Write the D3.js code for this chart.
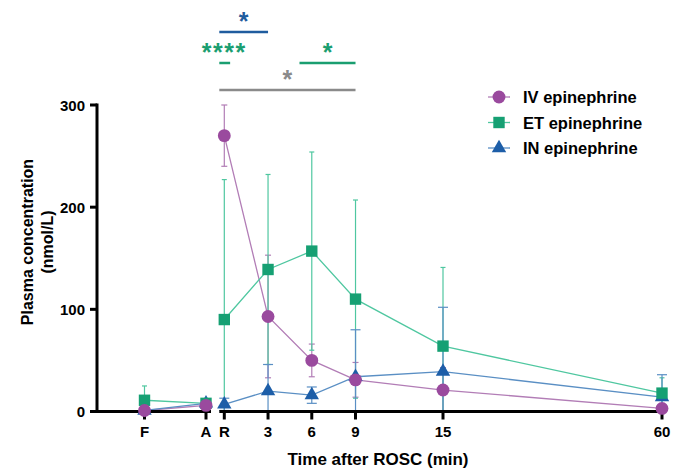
<!DOCTYPE html>
<html>
<head>
<meta charset="utf-8">
<script src="https://cdn.jsdelivr.net/npm/d3@7"></script>
<style>
  body { margin: 0; background: #fff; }
  svg { display: block; font-family: "Liberation Sans", Arial, sans-serif; }
</style>
</head>
<body>
<svg id="chart" width="681" height="468"></svg>
<script>
// 时间点
const preLabels = ["F", "A"];
const postTimes = [0, 3, 6, 9, 15, 60];
const postLabels = ["R", "3", "6", "9", "15", "60"];

// IV / ET / IN 均值和SD (F, A, R, 3, 6, 9, 15, 60)
const ivMean = [1, 6, 270, 93, 50, 31, 21, 3];
const ivSd   = [0, 0, 30, 60, 16, 17, 22, 3];
const etMean = [11, 8, 90, 139, 157, 110, 64, 18];
const etSd   = [14, 2, 137, 93, 97, 97, 77, 15];
const inMean = [1, 8, 7, 20, 16, 34, 39, 14];
const inSd   = [0, 0, 6, 26, 8, 46, 63, 22];

const yTicks = [0, 100, 200, 300];

// 显著性标记
const sigMarks = [
  { text: "*",    from: 0, to: 3,  row: 0, color: "#1f5c9e" },
  { text: "****", from: 0, to: 0.4, row: 1, color: "#1a9e70", textAt: 0 },
  { text: "*",    from: 5.5, to: 9, row: 1, color: "#1a9e70" },
  { text: "*",    from: 0, to: 9,  row: 2, color: "#8a8a8a" }
];

const series = [
  { name: "IV epinephrine", mean: ivMean, sd: ivSd, color: "#9a4a9e", line: "#b27db6", shape: d3.symbolCircle, size: 130, cap: 6 },
  { name: "ET epinephrine", mean: etMean, sd: etSd, color: "#16a073", line: "#4fc7a0", shape: d3.symbolSquare, size: 130, cap: 5 },
  { name: "IN epinephrine", mean: inMean, sd: inSd, color: "#1d5ea8", line: "#5a8fc4", shape: d3.symbolTriangle, size: 90, cap: 10 }
];

const svg = d3.select("#chart");

// 比例尺
const y = d3.scaleLinear().domain([0, 300]).range([411.5, 105]);
const xPre = d3.scalePoint().domain(preLabels).range([144.5, 206]);
const xPost = d3.scaleLinear().domain([0, 15, 60]).range([224.3, 443, 662]);

function xAt(i) {
  return i < preLabels.length ? xPre(preLabels[i]) : xPost(postTimes[i - preLabels.length]);
}

// 误差线
const errG = svg.append("g");
series.forEach(s => {
  s.mean.forEach((m, i) => {
    if (!s.sd[i]) return;
    const cx = xAt(i);
    const hi = y(m + s.sd[i]);
    const lo = y(Math.max(0, m - s.sd[i]));
    errG.append("line")
      .attr("x1", cx).attr("x2", cx)
      .attr("y1", hi).attr("y2", lo)
      .attr("stroke", s.line).attr("stroke-width", 1.2);
    errG.append("line")
      .attr("x1", cx - s.cap / 2).attr("x2", cx + s.cap / 2)
      .attr("y1", hi).attr("y2", hi)
      .attr("stroke", s.line).attr("stroke-width", 1.2);
    if (m - s.sd[i] > 0) {
      errG.append("line")
        .attr("x1", cx - s.cap / 2).attr("x2", cx + s.cap / 2)
        .attr("y1", lo).attr("y2", lo)
        .attr("stroke", s.line).attr("stroke-width", 1.2);
    }
  });
});

// 连接线（A 与 R 之间断开）
const lineGen = d3.line().x(d => d[0]).y(d => d[1]);
series.forEach(s => {
  const pts = s.mean.map((m, i) => [xAt(i), y(m)]);
  svg.append("path")
    .attr("d", lineGen(pts.slice(0, 2)))
    .attr("fill", "none").attr("stroke", s.line).attr("stroke-width", 1.3);
  svg.append("path")
    .attr("d", lineGen(pts.slice(2)))
    .attr("fill", "none").attr("stroke", s.line).attr("stroke-width", 1.3);
});

// 坐标轴
const axisG = svg.append("g");
axisG.append("line")
  .attr("x1", 97).attr("x2", 97)
  .attr("y1", y(300) - 1.5).attr("y2", y(0) + 1.5)
  .attr("stroke", "#000").attr("stroke-width", 3);
yTicks.forEach(t => {
  axisG.append("line")
    .attr("x1", 90).attr("x2", 97)
    .attr("y1", y(t)).attr("y2", y(t))
    .attr("stroke", "#000").attr("stroke-width", 3);
  axisG.append("text")
    .attr("x", 85).attr("y", y(t) + 5.5)
    .attr("text-anchor", "end")
    .attr("font-size", 15).attr("font-weight", "bold")
    .text(t);
});

axisG.append("line")
  .attr("x1", 97).attr("x2", 211)
  .attr("y1", y(0)).attr("y2", y(0))
  .attr("stroke", "#000").attr("stroke-width", 3);
axisG.append("line")
  .attr("x1", xPost(0) - 5).attr("x2", xPost(60) + 1.5)
  .attr("y1", y(0)).attr("y2", y(0))
  .attr("stroke", "#000").attr("stroke-width", 3);

const allLabels = preLabels.concat(postLabels);
allLabels.forEach((lab, i) => {
  const cx = xAt(i);
  axisG.append("line")
    .attr("x1", cx).attr("x2", cx)
    .attr("y1", y(0)).attr("y2", y(0) + 8)
    .attr("stroke", "#000").attr("stroke-width", 3);
  axisG.append("text")
    .attr("x", cx).attr("y", 436.5)
    .attr("text-anchor", "middle")
    .attr("font-size", 15).attr("font-weight", "bold")
    .text(lab);
});

// 轴标题
svg.append("text")
  .attr("x", 378).attr("y", 465)
  .attr("text-anchor", "middle")
  .attr("font-size", 17).attr("font-weight", "bold")
  .text("Time after ROSC (min)");

const yTitle = svg.append("text")
  .attr("transform", "translate(33,242) rotate(-90)")
  .attr("text-anchor", "middle")
  .attr("font-size", 16).attr("font-weight", "bold");
yTitle.append("tspan").attr("x", 0).attr("dy", 0).text("Plasma concentration");
yTitle.append("tspan").attr("x", 0).attr("dy", 20).text("(nmol/L)");

// 数据点（IN 最底层，IV 最上层）
[2, 1, 0].forEach(k => {
  const s = series[k];
  svg.append("g").selectAll("path")
    .data(s.mean)
    .join("path")
    .attr("transform", (m, i) => `translate(${xAt(i)},${y(m)})`)
    .attr("d", d3.symbol().type(s.shape).size(s.size))
    .attr("fill", s.color);
});

// 显著性
const rowY = [32, 63, 90];
sigMarks.forEach(sg => {
  const x1 = xPost(sg.from) - 5, x2 = xPost(sg.to);
  const ly = rowY[sg.row];
  svg.append("line")
    .attr("x1", x1).attr("x2", x2 < x1 + 10 ? x1 + 11 : x2)
    .attr("y1", ly).attr("y2", ly)
    .attr("stroke", sg.color).attr("stroke-width", 2.5);
  const tx = sg.textAt !== undefined ? xPost(sg.textAt) : (x1 + x2) / 2;
  svg.append("text")
    .attr("x", tx).attr("y", ly - 2)
    .attr("text-anchor", "middle")
    .attr("font-size", 25).attr("font-weight", "bold")
    .attr("fill", sg.color)
    .attr("letter-spacing", sg.text.length > 1 ? 1.5 : 0)
    .text(sg.text);
});

// 图例
const legend = svg.append("g").attr("transform", "translate(488,97)");
series.forEach((s, i) => {
  const g = legend.append("g").attr("transform", `translate(0,${i * 25.5})`);
  g.append("line")
    .attr("x1", 0).attr("x2", 22)
    .attr("stroke", s.line).attr("stroke-width", 1.3);
  g.append("path")
    .attr("transform", "translate(11,0)")
    .attr("d", d3.symbol().type(s.shape).size(s.size))
    .attr("fill", s.color);
  g.append("text")
    .attr("x", 35).attr("y", 6)
    .attr("font-size", 16.5).attr("font-weight", "bold")
    .text(s.name);
});
</script>
</body>
</html>
